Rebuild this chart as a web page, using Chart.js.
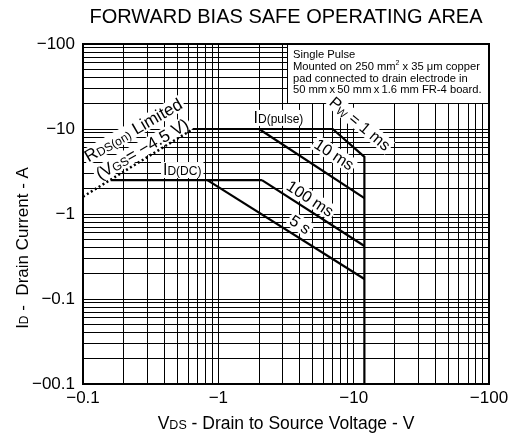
<!DOCTYPE html>
<html>
<head>
<meta charset="utf-8">
<script src="https://cdn.jsdelivr.net/npm/chart.js@4.4.1/dist/chart.umd.min.js"></script>
<style>
  html, body { margin: 0; padding: 0; background: #fff; }
  #wrap { width: 518px; height: 439px; }
</style>
</head>
<body>
<div id="wrap"><canvas id="soa"></canvas></div>
<script>
const FONT = "'Liberation Sans', Arial, sans-serif";

// limits, V_DS (V) and I_D (A), magnitudes
const rdsV = [0.1, 0.65];
const rdsI = [1.6, 10];
const pulseV = [0.65, 7, 12, 12];   // I_D(pulse) + PW = 1 ms + voltage limit
const pulseI = [10, 10, 4.7, 0.01];
const ms10V = [2, 12];
const ms10I = [10, 1.54];
const dcV = [0.16, 2.1];
const dcI = [2.5, 2.5];
const ms100V = [2.1, 12];
const ms100I = [2.5, 0.42];
const s5V = [0.83, 12];
const s5I = [2.5, 0.172];

const xMajors = [0.1, 1, 10, 100];
const xTickLabels = ["\u22120.1", "\u22121", "\u221210", "\u2212100"];
const yMajors = [0.01, 0.1, 1, 10, 100];
const yTickLabels = ["\u221200.1", "\u22120.1", "\u22121", "\u221210", "\u2212100"];

function pts(xs, ys) { return xs.map((x, i) => ({ x: x, y: ys[i] })); }

function logTicks(majors) {
  const out = [];
  for (let i = 0; i < majors.length - 1; i++) {
    for (let k = 1; k < 10; k++) out.push({ value: +(k * majors[i]).toPrecision(6) });
  }
  out.push({ value: majors[majors.length - 1] });
  return out;
}

function tickLabel(majors, labels) {
  return function (v) {
    for (let i = 0; i < majors.length; i++) {
      if (Math.abs(v - majors[i]) < majors[i] * 1e-6) return labels[i];
    }
    return "";
  };
}

function line(xs, ys, dash) {
  return {
    data: pts(xs, ys),
    showLine: true,
    borderColor: "#000",
    borderWidth: dash ? 2.5 : 2.2,
    borderDash: dash || [],
    pointRadius: 0,
    tension: 0,
  };
}

// text runs: [text, size, dy]
function runsWidth(ctx, runs) {
  let w = 0;
  runs.forEach(r => { ctx.font = r[1] + "px " + FONT; w += ctx.measureText(r[0]).width; });
  return w;
}
function drawRuns(ctx, runs, x, y) {
  const w = runsWidth(ctx, runs);
  let cx = x - w / 2;
  runs.forEach(r => {
    ctx.font = r[1] + "px " + FONT;
    ctx.fillText(r[0], cx, y + (r[2] || 0));
    cx += ctx.measureText(r[0]).width;
  });
  return w;
}
// lift: shift perpendicular to the text, towards its top
function label(ctx, runs, x, y, deg, lift) {
  const a = deg * Math.PI / 180;
  ctx.save();
  ctx.translate(x + Math.sin(a) * lift, y - Math.cos(a) * lift);
  ctx.rotate(a);
  ctx.textBaseline = "middle";
  const w = runsWidth(ctx, runs);
  ctx.fillStyle = "#fff";
  ctx.fillRect(-w / 2 - 2, -8, w + 4, 16);
  ctx.fillStyle = "#000";
  drawRuns(ctx, runs, 0, 1);
  ctx.restore();
}

const textPlugin = {
  id: "soaText",
  beforeDatasetsDraw(chart) {
    const { ctx, chartArea: a, scales } = chart;
    const X = v => scales.x.getPixelForValue(v);
    const Y = v => scales.y.getPixelForValue(v);

    // note box
    const bx = Math.round(X(3.2)), by = a.top, bw = a.right - bx, bh = Math.round(Y(20) - a.top);
    ctx.save();
    ctx.fillStyle = "#fff";
    ctx.fillRect(bx, by, bw, bh);
    ctx.strokeStyle = "#000";
    ctx.lineWidth = 1;
    ctx.strokeRect(bx + 0.5, by + 0.5, bw, bh);
    ctx.fillStyle = "#000";
    ctx.textBaseline = "alphabetic";
    ctx.textAlign = "left";
    const fs = "11.2px " + FONT;
    ctx.font = fs;
    const lx = bx + 6;
    ctx.fillText("Single Pulse", lx, by + 14);
    let t = "Mounted on 250 mm";
    ctx.fillText(t, lx, by + 26);
    let w = ctx.measureText(t).width;
    ctx.font = "7px " + FONT;
    ctx.fillText("2", lx + w, by + 21);
    w += ctx.measureText("2").width;
    ctx.font = fs;
    ctx.fillText(" x 35 \u03bcm copper", lx + w, by + 26);
    ctx.fillText("pad connected to drain electrode in", lx, by + 38);
    ctx.fillText("50 mm\u2009x\u200950 mm\u2009x\u20091.6 mm FR-4 board.", lx, by + 49);
    ctx.restore();

    label(ctx, [["I", 16], ["D(pulse)", 12, 1]], X(2.78), Y(13.5), 0, 0);
    label(ctx, [["P", 16], ["W", 11, 3], [" = 1 ms", 16]], X(10.9), Y(11.1), 40, 2);
    label(ctx, [["10 ms", 16]], X(6.99), Y(4.69), 33, 3);
    label(ctx, [["100 ms", 16]], X(4.64), Y(1.42), 33, 3);
    label(ctx, [["5 s", 16]], X(3.91), Y(0.703), 33, 3);
    label(ctx, [["I", 16], ["D(DC)", 12, 1]], X(0.541), Y(3.29), 0, 0);
    label(ctx, [["R", 17], ["DS(on)", 12, 2], [" Limited", 17]], X(0.235), Y(9.73), -30, 0);
    label(ctx, [["(V", 17], ["GS", 12, 2], ["= \u22124.5 V)", 17]], X(0.274), Y(5.82), -30, 0);
  },
  afterDraw(chart) {
    const { ctx, chartArea: a } = chart;
    ctx.save();
    ctx.strokeStyle = "#000";
    ctx.lineWidth = 2;
    ctx.strokeRect(a.left, a.top, a.right - a.left, a.bottom - a.top);
    ctx.fillStyle = "#000";
    ctx.textBaseline = "alphabetic";
    ctx.font = "20px " + FONT;
    ctx.textAlign = "center";
    ctx.fillText("FORWARD BIAS SAFE OPERATING AREA", (a.left + a.right) / 2, 23);
    ctx.textAlign = "left";
    drawRuns(ctx, [["V", 17.5], ["DS", 12.5], [" - Drain to Source Voltage - V", 17.5]], (a.left + a.right) / 2, 429);
    ctx.translate(28, 248);
    ctx.rotate(-Math.PI / 2);
    drawRuns(ctx, [["I", 17], ["D", 12], [" -  Drain Current - A", 17]], 0, 0);
    ctx.restore();
  },
};

new Chart(document.getElementById("soa"), {
  type: "scatter",
  data: {
    datasets: [
      line(rdsV, rdsI, [2, 2.6]),
      line(pulseV, pulseI),
      line(ms10V, ms10I),
      line(dcV, dcI),
      line(ms100V, ms100I),
      line(s5V, s5I),
    ],
  },
  options: {
    responsive: true,
    maintainAspectRatio: false,
    animation: false,
    layout: { padding: { top: 44, right: 29, left: 0, bottom: 0 } },
    plugins: { legend: { display: false }, tooltip: { enabled: false } },
    scales: {
      x: {
        type: "logarithmic",
        min: 0.1,
        max: 100,
        afterBuildTicks: s => { s.ticks = logTicks(xMajors); },
        afterFit: s => { s.height = 55; },
        grid: { color: "#000", lineWidth: 1, drawTicks: false },
        border: { color: "#000", width: 2 },
        ticks: {
          autoSkip: false,
          maxRotation: 0,
          padding: 4,
          color: "#000",
          font: { family: FONT, size: 17 },
          callback: tickLabel(xMajors, xTickLabels),
        },
      },
      y: {
        type: "logarithmic",
        min: 0.01,
        max: 100,
        afterBuildTicks: s => { s.ticks = logTicks(yMajors); },
        afterFit: s => { s.width = 83; },
        grid: { color: "#000", lineWidth: 1, drawTicks: false },
        border: { color: "#000", width: 2 },
        ticks: {
          autoSkip: false,
          padding: 8,
          color: "#000",
          font: { family: FONT, size: 17 },
          callback: tickLabel(yMajors, yTickLabels),
        },
      },
    },
  },
  plugins: [textPlugin],
});
</script>
</body>
</html>
